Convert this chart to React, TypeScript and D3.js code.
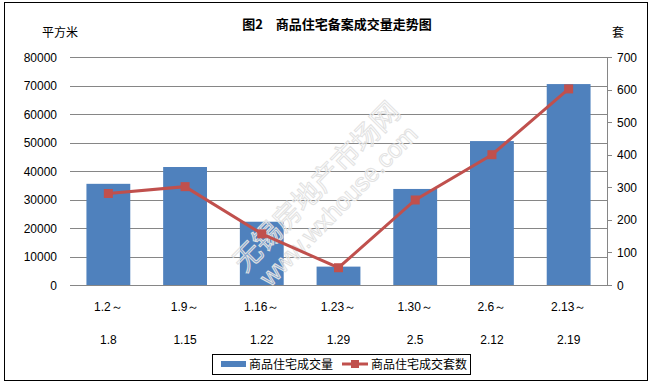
import React, { useEffect } from 'react';
import * as d3 from 'd3';

// x categories, split over two lines like the original
const periodStart = ['1.2～', '1.9～', '1.16～', '1.23～', '1.30～', '2.6～', '2.13～'];
const periodEnd = ['1.8', '1.15', '1.22', '1.29', '2.5', '2.12', '2.19'];

// 商品住宅成交量 (平方米)
const areaValues = [35500, 41400, 22200, 6450, 33700, 50500, 70500];
// 商品住宅成交套数 (套)
const unitValues = [281, 302, 157, 53, 261, 400, 602];

const leftTicks = [0, 10000, 20000, 30000, 40000, 50000, 60000, 70000, 80000];
const rightTicks = [0, 100, 200, 300, 400, 500, 600, 700];

const W = 653;
const H = 385;
const BAR = '#4F81BD';
const LINE = '#C0504D';
const cnFont = '"Noto Sans CJK SC", "Noto Sans", sans-serif';
const numFont = '"Liberation Sans", Arial, sans-serif';

const App: React.FC = () => {
  useEffect(() => {
    document.body.style.margin = '0';
  }, []);

  const plot = { left: 70, right: 607, top: 57, bottom: 285 };

  const x = d3.scaleBand<number>()
    .domain(d3.range(periodStart.length))
    .range([plot.left, plot.right])
    .paddingInner(0.75 / 1.75)
    .paddingOuter(0.75 / 3.5);

  const yL = d3.scaleLinear().domain([0, 80000]).range([plot.bottom, plot.top]);
  const yR = d3.scaleLinear().domain([0, 700]).range([plot.bottom, plot.top]);

  const cx = (i: number) => (x(i) ?? 0) + x.bandwidth() / 2;

  const line = d3.line<number>()
    .x((_, i) => cx(i))
    .y(d => yR(d));

  return (
    <svg width={W} height={H} style={{ display: 'block', background: '#fff' }}>
      <rect x={4.5} y={2.5} width={643} height={378} fill="#fff" stroke="#000" strokeWidth={1} />

      <text x={337} y={29} textAnchor="middle" fontFamily={cnFont} fontWeight="bold" fontSize={13} fill="#000">
        图2　商品住宅备案成交量走势图
      </text>
      <text x={60} y={37} textAnchor="middle" fontFamily={cnFont} fontSize={12} fill="#000">平方米</text>
      <text x={618} y={37} textAnchor="middle" fontFamily={cnFont} fontSize={12} fill="#000">套</text>

      {/* gridlines */}
      {leftTicks.map(t => (
        <line key={'g' + t} x1={plot.left} x2={plot.right} y1={Math.round(yL(t)) + 0.5} y2={Math.round(yL(t)) + 0.5}
          stroke="#868686" strokeWidth={1} />
      ))}

      {/* left tick labels */}
      {leftTicks.map(t => (
        <text key={'l' + t} x={57} y={yL(t) + 4.5} textAnchor="end" fontFamily={numFont} fontSize={12} fill="#000">
          {t}
        </text>
      ))}

      {/* right axis */}
      <line x1={plot.right + 0.5} x2={plot.right + 0.5} y1={plot.top} y2={plot.bottom} stroke="#868686" />
      {rightTicks.map(t => (
        <g key={'r' + t}>
          <line x1={plot.right} x2={plot.right + 5} y1={Math.round(yR(t)) + 0.5} y2={Math.round(yR(t)) + 0.5} stroke="#868686" />
          <text x={617} y={yR(t) + 4.5} fontFamily={numFont} fontSize={12} fill="#000">{t}</text>
        </g>
      ))}

      {/* bars */}
      {areaValues.map((v, i) => (
        <rect key={'b' + i} x={x(i)} y={yL(v)} width={x.bandwidth()} height={plot.bottom - yL(v)} fill={BAR} />
      ))}

      {/* watermark */}
      <g>
        <text transform="translate(318,188) rotate(-45.5)" textAnchor="middle" dominantBaseline="middle"
          fontFamily={cnFont} fontSize={28} fill="rgba(255,255,255,0.25)" stroke="#e2e2e2" strokeWidth={1}>
          无锡房地产市场网
        </text>
        <text transform="translate(340,207) rotate(-45.5)" textAnchor="middle" dominantBaseline="middle"
          fontFamily={numFont} fontSize={25} fill="rgba(255,255,255,0.25)" stroke="#e2e2e2" strokeWidth={1}>
          www.wxhouse.com
        </text>
      </g>

      {/* line series */}
      <path d={line(unitValues) ?? ''} fill="none" stroke={LINE} strokeWidth={3} />
      {unitValues.map((v, i) => (
        <rect key={'m' + i} x={cx(i) - 4.5} y={yR(v) - 4.5} width={9} height={9} fill={LINE} />
      ))}

      {/* x labels */}
      {periodStart.map((s, i) => (
        <g key={'x' + i}>
          <text x={cx(i)} y={311} textAnchor="middle" fontFamily={numFont} fontSize={12} fill="#000">{s}</text>
          <text x={cx(i)} y={344} textAnchor="middle" fontFamily={numFont} fontSize={12} fill="#000">{periodEnd[i]}</text>
        </g>
      ))}

      {/* legend */}
      <rect x={212.5} y={354.5} width={258} height={20} fill="#fff" stroke="#000" />
      <rect x={221} y={361} width={25} height={6} fill={BAR} />
      <text x={249} y={369} fontFamily={cnFont} fontSize={12} fill="#000">商品住宅成交量</text>
      <line x1={342} x2={368} y1={364} y2={364} stroke={LINE} strokeWidth={3} />
      <rect x={351} y={360} width={8} height={8} fill={LINE} />
      <text x={371} y={369} fontFamily={cnFont} fontSize={12} fill="#000">商品住宅成交套数</text>
    </svg>
  );
};

export default App;
